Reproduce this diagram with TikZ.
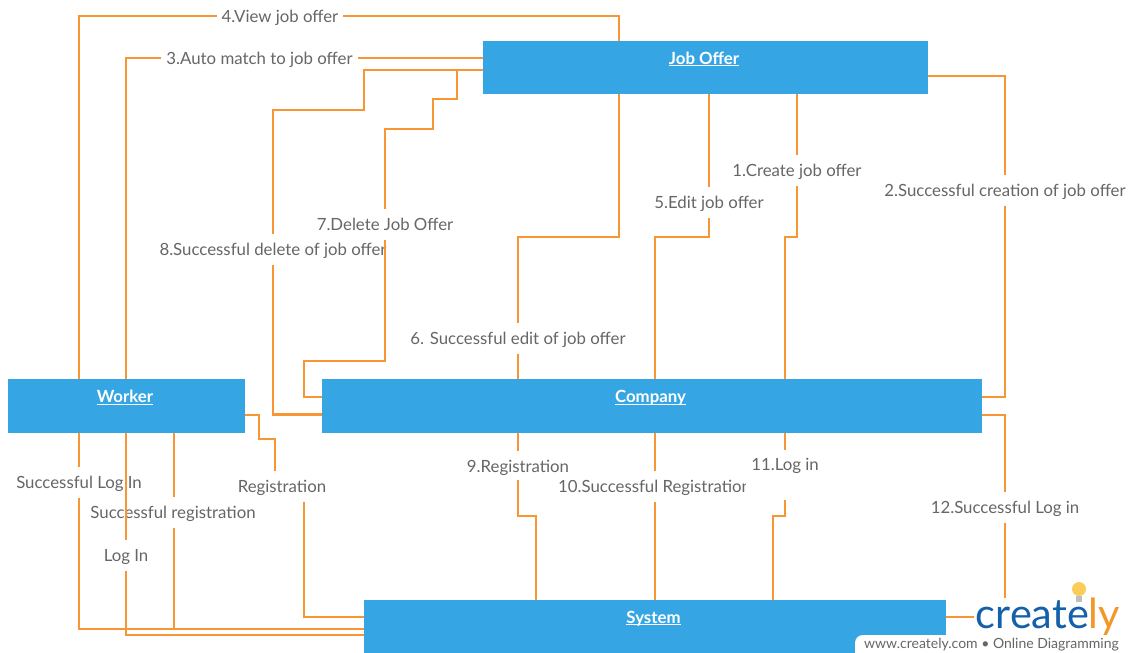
\documentclass[tikz,border=0pt]{standalone}
\usepackage{fontspec}
\setmainfont{Lato}
\usepackage{tikz}
\definecolor{lineorange}{RGB}{247,150,50}
\definecolor{boxblue}{RGB}{53,166,227}
\definecolor{lblgrey}{RGB}{102,102,102}
\definecolor{logoblue}{RGB}{21,96,170}
\definecolor{logoorange}{RGB}{245,150,40}
\definecolor{bulbyellow}{RGB}{250,205,90}
\newcommand\boxname[1]{\hspace*{-3pt}\raisebox{7pt}{\underline{\smash{#1}}}}
\tikzset{
  entity/.style={fill=boxblue,text=white,font=\fontsize{16.8}{18}\selectfont\bfseries,outer sep=0pt,inner sep=0pt},
  conn/.style={draw=lineorange,line width=2.2pt},
  lbl/.style={fill=white,text=lblgrey,font=\fontsize{16.8}{18}\selectfont,inner xsep=5pt,inner ysep=0pt,minimum height=31pt,text height=16pt,text depth=4pt}
}
\begin{document}
\begin{tikzpicture}[x=1pt,y=-1pt]
\useasboundingbox (0,0) rectangle (1128,653);

% to draw entities
\node (Offer) [entity,minimum width=445pt,minimum height=53pt] at (705.5,67.5) {\boxname{Job Offer}};
\node (Worker) [entity,minimum width=237pt,minimum height=54pt] at (126.5,406) {\boxname{Worker}};
\node (Company) [entity,minimum width=660pt,minimum height=54pt] at (652,406) {\boxname{Company}};
\node (System) [entity,minimum width=582pt,minimum height=53pt] at (655,626.5) {\boxname{System}};

% Job Offer to Worker
\draw [conn] (619,0 |- Offer.north) -- (619,16) -- (79,16) -- (79,0 |- Worker.north);
\node (view) [lbl] at (280,16) {4.View job offer};
\draw [conn] (Offer.west |- 0,58) -- (126,58) -- (126,0 |- Worker.north);
\node (match) [lbl] at (259.5,58) {3.Auto match to job offer};

% Job Offer and Company, left side
\draw [conn] (Offer.west |- 0,70) -- (364,70) -- (364,110) -- (273,110) -- (273,414.5) -- (Company.west |- 0,414.5);
\node (deleted) [lbl] at (273,249.5) {8.Successful delete of job offer};
\draw [conn] (Offer.west |- 0,70) -- (457,70) -- (457,99) -- (433,99) -- (433,129) -- (385,129) -- (385,361) -- (304,361) -- (304,397) -- (Company.west |- 0,397);
\node (delete) [lbl] at (385,224.5) {7.Delete Job Offer};

% Job Offer and Company, bottom side
\draw [conn] (619,0 |- Offer.south) -- (619,237) -- (518,237) -- (518,0 |- Company.north);
\node (edited) [lbl] at (518,338) {6. Successful edit of job offer};
\draw [conn] (709,0 |- Offer.south) -- (709,237) -- (655,237) -- (655,0 |- Company.north);
\node (edit) [lbl] at (709,202) {5.Edit job offer};
\draw [conn] (797,0 |- Offer.south) -- (797,237) -- (785,237) -- (785,0 |- Company.north);
\node (create) [lbl] at (797,170) {1.Create job offer};
\draw [conn] (Offer.east |- 0,76) -- (1005,76) -- (1005,397) -- (Company.east |- 0,397);
\node (created) [lbl] at (1005,190) {2.Successful creation of job offer};

% Worker and System
\draw [conn] (79,0 |- Worker.south) -- (79,629) -- (System.west |- 0,629);
\node (loggedw) [lbl] at (79,482) {Successful Log In};
\draw [conn] (174,0 |- Worker.south) -- (174,629);
\node (registered) [lbl] at (173,512) {Successful registration};
\draw [conn] (126,0 |- Worker.south) -- (126,635) -- (System.west |- 0,635);
\node (loginw) [lbl] at (126,555) {Log In};
\draw [conn] (Worker.east |- 0,415) -- (259,415) -- (259,439) -- (275,439) -- (275,487) -- (304,487) -- (304,617) -- (System.west |- 0,617);
\node (register) [lbl] at (282,486.5) {Registration};

% Company and System
\draw [conn] (655,0 |- Company.south) -- (655,0 |- System.north);
\node (regdone) [lbl] at (654.5,486.5) {10.Successful Registration};
\draw [conn] (518,0 |- Company.south) -- (518,516) -- (536,516) -- (536,0 |- System.north);
\node (regc) [lbl,minimum height=29pt,text depth=2pt] at (518,465) {9.Registration};
\draw [conn] (785,0 |- Company.south) -- (785,516) -- (773,516) -- (773,0 |- System.north);
\node (loginc) [lbl,minimum height=50pt,minimum width=74pt,text depth=26pt] at (785,475) {11.Log in};
\draw [conn] (Company.east |- 0,415) -- (1005,415) -- (1005,617) -- (System.east |- 0,617);
\node (loggedc) [lbl] at (1005,507) {12.Successful Log in};

% logo
\node (logo) [fill=white,inner xsep=2pt,inner ysep=0pt,font=\fontsize{41.5}{45}\selectfont] at (1048,617) {\textcolor{logoblue}{create}\textcolor{logoorange}{ly}};
\fill [bulbyellow] (1079,589) circle (7pt);
\fill [lightgray] (1076,596) rectangle (1082,602);
\fill [white,rounded corners=8pt] (855,665) rectangle (1145,635);
\node (credit) [text=lblgrey,anchor=west,inner sep=0pt,font=\fontsize{14}{16}\selectfont] at (864,645) {www.creately.com • Online Diagramming};
\end{tikzpicture}
\end{document}
